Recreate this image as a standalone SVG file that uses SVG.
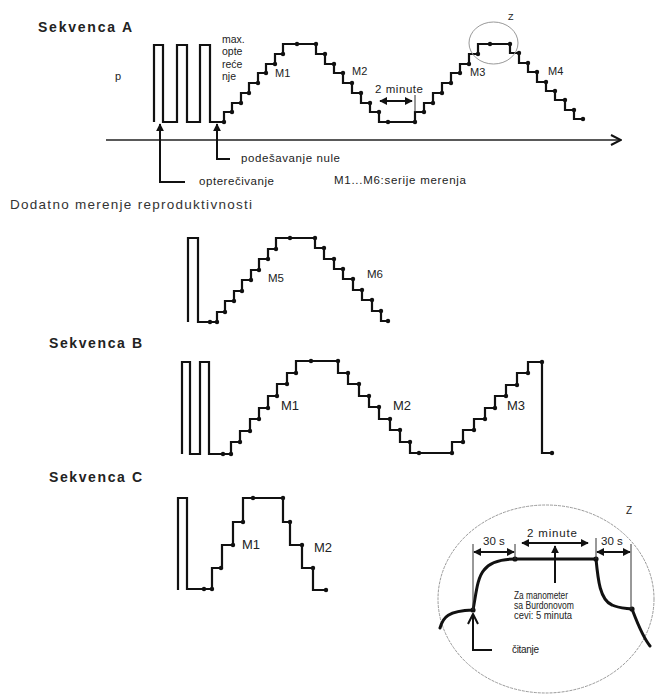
<svg xmlns="http://www.w3.org/2000/svg" width="656" height="695" viewBox="0 0 656 695">
<style>
text{font-family:"Liberation Sans",Arial,sans-serif;fill:#222}
.h{font-weight:bold;font-size:14px}
.s{font-size:11px}
.m{font-size:11.5px}
.b{font-size:13px}
.t{font-size:10px}
.tr{fill:none;stroke:#111;stroke-width:2.2;stroke-linejoin:miter}
.ax{fill:none;stroke:#222;stroke-width:1.5}
.ar{fill:none;stroke:#111;stroke-width:2}
.th{fill:none;stroke:#333;stroke-width:1}
.cv{fill:none;stroke:#111;stroke-width:3;stroke-linecap:round}
.el{fill:none;stroke:#999;stroke-width:1}
.d{fill:#111}
</style>
<defs>
<marker id="ah" viewBox="0 0 10 10" refX="9" refY="5" markerWidth="8" markerHeight="8" markerUnits="userSpaceOnUse" orient="auto-start-reverse"><path d="M0,0 L10,5 L0,10 z" fill="#111"/></marker>
<marker id="oa" viewBox="0 0 12 12" refX="11" refY="6" markerWidth="12" markerHeight="12" markerUnits="userSpaceOnUse" orient="auto"><path d="M1,1 L11,6 L1,11" fill="none" stroke="#111" stroke-width="2"/></marker>
</defs>

<g id="seqA">
<text class="h" x="38" y="32" textLength="94">Sekvenca A</text>
<text class="s" x="115" y="80">p</text>
<text class="t" x="222" y="43" style="font-size:10.5px">max.</text>
<text class="t" x="222" y="55" style="font-size:10.5px">opte</text>
<text class="t" x="222" y="68" style="font-size:10.5px">reće</text>
<text class="t" x="222" y="80" style="font-size:10.5px">nje</text>
<path class="tr" d="M154,122 V45 H163 V122 H177 V45 H187 V122 H200 V45 H210 V122 H224 V112 H232 V103 H241 V93 H249 V83 H258 V73 H266 V64 H275 V54 H283 V44 H316 V54 H325 V64 H334 V73 H343 V83 H352 V93 H361 V103 H370 V112 H379 V122 H415 V112 H424 V103 H433 V93 H442 V83 H451 V73 H460 V64 H469 V54 H478 V44 H510 V53 H519 V63 H528 V72 H537 V82 H546 V91 H555 V100 H565 V110 H574 V119 H583"/>
<g class="d">
<circle cx="224" cy="122" r="2.2"/><circle cx="232" cy="112" r="2.2"/><circle cx="241" cy="103" r="2.2"/><circle cx="249" cy="93" r="2.2"/><circle cx="258" cy="83" r="2.2"/><circle cx="266" cy="73" r="2.2"/><circle cx="275" cy="64" r="2.2"/><circle cx="283" cy="54" r="2.2"/><circle cx="297" cy="44" r="2.2"/><circle cx="316" cy="44" r="2.2"/>
<circle cx="325" cy="54" r="2.2"/><circle cx="334" cy="64" r="2.2"/><circle cx="343" cy="73" r="2.2"/><circle cx="352" cy="83" r="2.2"/><circle cx="361" cy="93" r="2.2"/><circle cx="370" cy="103" r="2.2"/><circle cx="379" cy="112" r="2.2"/><circle cx="388" cy="122" r="2.2"/><circle cx="415" cy="122" r="2.2"/>
<circle cx="424" cy="112" r="2.2"/><circle cx="433" cy="103" r="2.2"/><circle cx="442" cy="93" r="2.2"/><circle cx="451" cy="83" r="2.2"/><circle cx="460" cy="73" r="2.2"/><circle cx="469" cy="64" r="2.2"/><circle cx="478" cy="54" r="2.2"/><circle cx="490" cy="44" r="2.2"/><circle cx="510" cy="44" r="2.2"/>
<circle cx="519" cy="53" r="2.2"/><circle cx="528" cy="63" r="2.2"/><circle cx="537" cy="72" r="2.2"/><circle cx="546" cy="82" r="2.2"/><circle cx="555" cy="91" r="2.2"/><circle cx="565" cy="100" r="2.2"/><circle cx="574" cy="110" r="2.2"/><circle cx="583" cy="119" r="2.2"/>
</g>
<text class="s" x="275" y="77">M1</text>
<text class="s" x="352" y="75">M2</text>
<text class="s" x="470" y="76">M3</text>
<text class="s" x="548" y="75">M4</text>
<text class="m" x="375" y="93" textLength="48">2 minute</text>
<line class="th" x1="415" y1="95" x2="415" y2="112"/>
<ellipse class="el" cx="493.5" cy="43" rx="24.5" ry="21"/>
<text x="508" y="20" style="font-size:9px">Z</text>
<text class="m" x="241" y="162" textLength="99">podešavanje nule</text>
<text class="m" x="199" y="185" textLength="75">opterečivanje</text>
<text class="m" x="334" y="184" textLength="132">M1...M6:serije merenja</text>
</g>

<g id="dodatno">
<text x="10" y="209" textLength="242" style="font-size:13.5px;fill:#333">Dodatno merenje reproduktivnosti</text>
<path class="tr" d="M188,322 V238 H198 V322 H217 V312 H225 V301 H234 V291 H242 V280 H251 V270 H259 V259 H268 V249 H276 V238 H315 V248 H324 V259 H334 V269 H343 V279 H353 V290 H362 V300 H372 V311 H381 V321 H388"/>
<g class="d">
<circle cx="210" cy="322" r="2.2"/><circle cx="217" cy="322" r="2.2"/><circle cx="225" cy="312" r="2.2"/><circle cx="234" cy="301" r="2.2"/><circle cx="242" cy="291" r="2.2"/><circle cx="251" cy="280" r="2.2"/><circle cx="259" cy="270" r="2.2"/><circle cx="268" cy="259" r="2.2"/><circle cx="276" cy="249" r="2.2"/><circle cx="290" cy="238" r="2.2"/><circle cx="315" cy="238" r="2.2"/>
<circle cx="324" cy="248" r="2.2"/><circle cx="334" cy="259" r="2.2"/><circle cx="343" cy="269" r="2.2"/><circle cx="353" cy="279" r="2.2"/><circle cx="362" cy="290" r="2.2"/><circle cx="372" cy="300" r="2.2"/><circle cx="381" cy="311" r="2.2"/><circle cx="388" cy="321" r="2.2"/>
</g>
<text class="m" x="268" y="282">M5</text>
<text class="m" x="367" y="278">M6</text>
</g>

<g id="seqB">
<text class="h" x="49" y="348" textLength="93">Sekvenca B</text>
<path class="tr" d="M182,454 V362 H190 V454 H200 V362 H209 V454 H231 V442 H240 V431 H250 V419 H259 V408 H268 V396 H277 V384 H287 V373 H296 V361 H338 V373 H348 V384 H359 V396 H369 V407 H379 V419 H390 V430 H400 V442 H410 V453 H452 V442 H463 V430 H474 V419 H485 V408 H495 V396 H506 V385 H517 V373 H528 V362 H542 V453 H552"/>
<g class="d">
<circle cx="223" cy="454" r="2.2"/><circle cx="231" cy="454" r="2.2"/><circle cx="240" cy="442" r="2.2"/><circle cx="250" cy="431" r="2.2"/><circle cx="259" cy="419" r="2.2"/><circle cx="268" cy="408" r="2.2"/><circle cx="277" cy="396" r="2.2"/><circle cx="287" cy="384" r="2.2"/><circle cx="296" cy="373" r="2.2"/><circle cx="311" cy="361" r="2.2"/><circle cx="338" cy="361" r="2.2"/>
<circle cx="348" cy="373" r="2.2"/><circle cx="359" cy="384" r="2.2"/><circle cx="369" cy="396" r="2.2"/><circle cx="379" cy="407" r="2.2"/><circle cx="390" cy="419" r="2.2"/><circle cx="400" cy="430" r="2.2"/><circle cx="410" cy="442" r="2.2"/><circle cx="419" cy="453" r="2.2"/><circle cx="452" cy="453" r="2.2"/>
<circle cx="463" cy="442" r="2.2"/><circle cx="474" cy="430" r="2.2"/><circle cx="485" cy="419" r="2.2"/><circle cx="495" cy="408" r="2.2"/><circle cx="506" cy="396" r="2.2"/><circle cx="517" cy="385" r="2.2"/><circle cx="528" cy="373" r="2.2"/><circle cx="542" cy="362" r="2.2"/><circle cx="552" cy="453" r="2.2"/>
</g>
<text class="b" x="281" y="410">M1</text>
<text class="b" x="393" y="410">M2</text>
<text class="b" x="507" y="410">M3</text>
</g>

<g id="seqC">
<text class="h" x="49" y="482" textLength="93">Sekvenca C</text>
<path class="tr" d="M178,590 V498 H187 V589 H212 V568 H222 V545 H233 V522 H243 V498 H283 V522 H290 V545 H302 V568 H313 V590 H326"/>
<g class="d">
<circle cx="204" cy="589" r="2.2"/><circle cx="212" cy="589" r="2.2"/><circle cx="221" cy="568" r="2.2"/><circle cx="233" cy="545" r="2.2"/><circle cx="243" cy="522" r="2.2"/><circle cx="253" cy="498" r="2.2"/><circle cx="283" cy="498" r="2.2"/><circle cx="290" cy="522" r="2.2"/><circle cx="302" cy="545" r="2.2"/><circle cx="313" cy="568" r="2.2"/><circle cx="326" cy="590" r="2.2"/>
</g>
<text class="b" x="242" y="549">M1</text>
<text class="b" x="314" y="552">M2</text>
</g>

<g id="detailZ">
<ellipse class="el" cx="546" cy="599" rx="108" ry="94" stroke-dasharray="3 1"/>
<text class="t" x="626" y="514">Z</text>
<path class="cv" d="M440,628 C443,617 448,611 473,610 C476,595 477,578 484,570 C490,562 500,559 515,559 H596 C598,580 600,600 612,605 C618,608 625,608 632,609 C637,622 642,636 650,646"/>
<g class="d">
<circle cx="473" cy="610" r="2.6"/><circle cx="515" cy="559" r="2.6"/><circle cx="596" cy="559" r="2.6"/><circle cx="632" cy="609" r="2.6"/>
</g>
<text class="m" x="483" y="545">30 s</text>
<text class="m" x="527" y="537" textLength="50">2 minute</text>
<text class="m" x="601" y="545">30 s</text>
<text class="t" x="514" y="599" textLength="54" lengthAdjust="spacingAndGlyphs">Za manometer</text>
<text class="t" x="514" y="609" textLength="60" lengthAdjust="spacingAndGlyphs">sa Burdonovom</text>
<text class="t" x="514" y="619" textLength="58" lengthAdjust="spacingAndGlyphs">cevi:  5 minuta</text>
<text class="t" x="512" y="653" textLength="27">čitanje</text>
</g>

<g id="connectors">
<line class="ax" x1="106" y1="140" x2="621" y2="140" marker-end="url(#oa)"/>
<path class="ar" d="M185,182 H160 V124" marker-end="url(#ah)"/>
<path class="ar" d="M230,159 H217 V124" marker-end="url(#ah)"/>
<line class="ar" x1="380" y1="101" x2="412" y2="101" marker-start="url(#ah)" marker-end="url(#ah)"/>
<line class="th" x1="473" y1="544" x2="473" y2="610"/>
<line class="th" x1="515" y1="544" x2="515" y2="559"/>
<line class="th" x1="596" y1="538" x2="596" y2="559"/>
<line class="th" x1="631" y1="544" x2="631" y2="609"/>
<line class="ar" x1="474" y1="552" x2="514" y2="552" marker-start="url(#ah)" marker-end="url(#ah)"/>
<line class="ar" x1="522" y1="543" x2="588" y2="543" marker-start="url(#ah)" marker-end="url(#ah)"/>
<line class="ar" x1="597" y1="552" x2="630" y2="552" marker-start="url(#ah)" marker-end="url(#ah)"/>
<line class="ar" x1="555" y1="583" x2="555" y2="546" marker-end="url(#ah)"/>
<path class="ar" d="M492,650 H473 V614" marker-end="url(#oa)"/>
</g>
</svg>
